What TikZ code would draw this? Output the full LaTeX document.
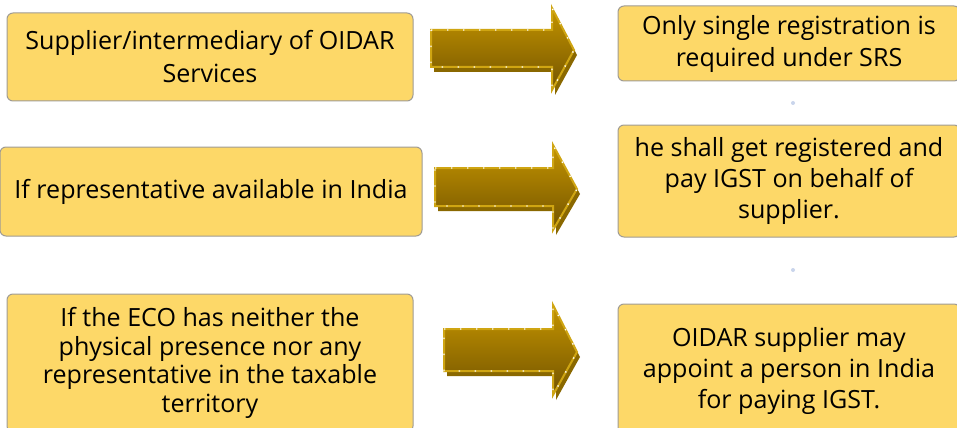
\documentclass[tikz,border=0pt]{standalone}
\usepackage{fontspec}
\setmainfont{Open Sans}
\definecolor{boxfill}{HTML}{FDD868}
\definecolor{boxline}{HTML}{A09C94}
\definecolor{goldtop}{HTML}{C49400}
\definecolor{goldbot}{HTML}{735400}
\definecolor{goldedge}{HTML}{CFA512}
\definecolor{goldshadow}{HTML}{8A6800}
\definecolor{markblue}{HTML}{C9D5EC}

% block arrow: #1 tail x, #2 shaft top, #3 shaft bottom, #4 head x,
% #5 head top, #6 head bottom, #7 tip x, #8 tip y
\newcommand\goldarrow[8]{%
  \fill[goldshadow, shift={(3,5)}]
    (#1,#2) -- (#4,#2) -- (#4,#5) -- (#7,#8) -- (#4,#6) -- (#4,#3) -- (#1,#3) -- cycle;
  \shade[top color=goldtop, bottom color=goldbot, draw=goldedge, line width=1.5pt, line join=miter]
    (#1,#2) -- (#4,#2) -- (#4,#5) -- (#7,#8) -- (#4,#6) -- (#4,#3) -- (#1,#3) -- cycle;
  \draw[white, line width=1pt, dash pattern=on 1pt off 11pt]
    (#1,#2) -- (#4,#2) -- (#4,#5) -- (#7,#8) -- (#4,#6) -- (#4,#3) -- (#1,#3) -- cycle;
}

\begin{document}
\begin{tikzpicture}[x=0.75pt, y=-0.75pt,
  infobox/.style={draw=boxline, fill=boxfill, rounded corners=4.5pt,
    line width=0.75pt, align=center, inner sep=0pt,
    font=\fontsize{18.8}{24.75}\selectfont},
]
\useasboundingbox (0,0) rectangle (957,428);
\clip (0,0) rectangle (957,428);
\fill[white] (0,0) rectangle (957,428);

% left column
\node[infobox, minimum width=304.5pt, minimum height=66pt] (supplier) at (210,57)
  {Supplier/intermediary of OIDAR\\Services};
\node[infobox, minimum width=316.5pt, minimum height=66.75pt] (representative) at (211,191.5)
  {If representative available in India};
\node[infobox, minimum width=304.5pt, minimum height=103.5pt,
  font=\fontsize{18.8}{21.4}\selectfont] (noeco) at (210,363)
  {If the ECO has neither the\\physical presence nor any\\representative in the taxable\\territory};

% right column
\node[infobox, minimum width=256.5pt, minimum height=56.25pt,
  font=\fontsize{18.8}{24}\selectfont] (srs) at (789,43.5)
  {Only single registration is\\required under SRS};
\node[infobox, minimum width=256.5pt, minimum height=84pt,
  font=\fontsize{18.8}{23.2}\selectfont] (igst) at (789,181)
  {he shall get registered and\\pay IGST on behalf of\\supplier.};
\node[infobox, minimum width=256.5pt, minimum height=100.5pt,
  font=\fontsize{18.8}{23.6}\selectfont] (appoint) at (789,371)
  {OIDAR supplier may\\appoint a person in India\\for paying IGST.};

% block arrows between the columns
\goldarrow{431}{30}{67}{552}{8}{90}{574}{50}
\goldarrow{435}{168}{206}{553}{145}{230}{577}{189}
\goldarrow{444}{329}{371}{553}{305}{395}{577}{352}

% small markers between the right boxes
\fill[markblue] (793,103) circle[radius=1.5pt];
\fill[markblue] (793,270) circle[radius=1.5pt];
\end{tikzpicture}
\end{document}
